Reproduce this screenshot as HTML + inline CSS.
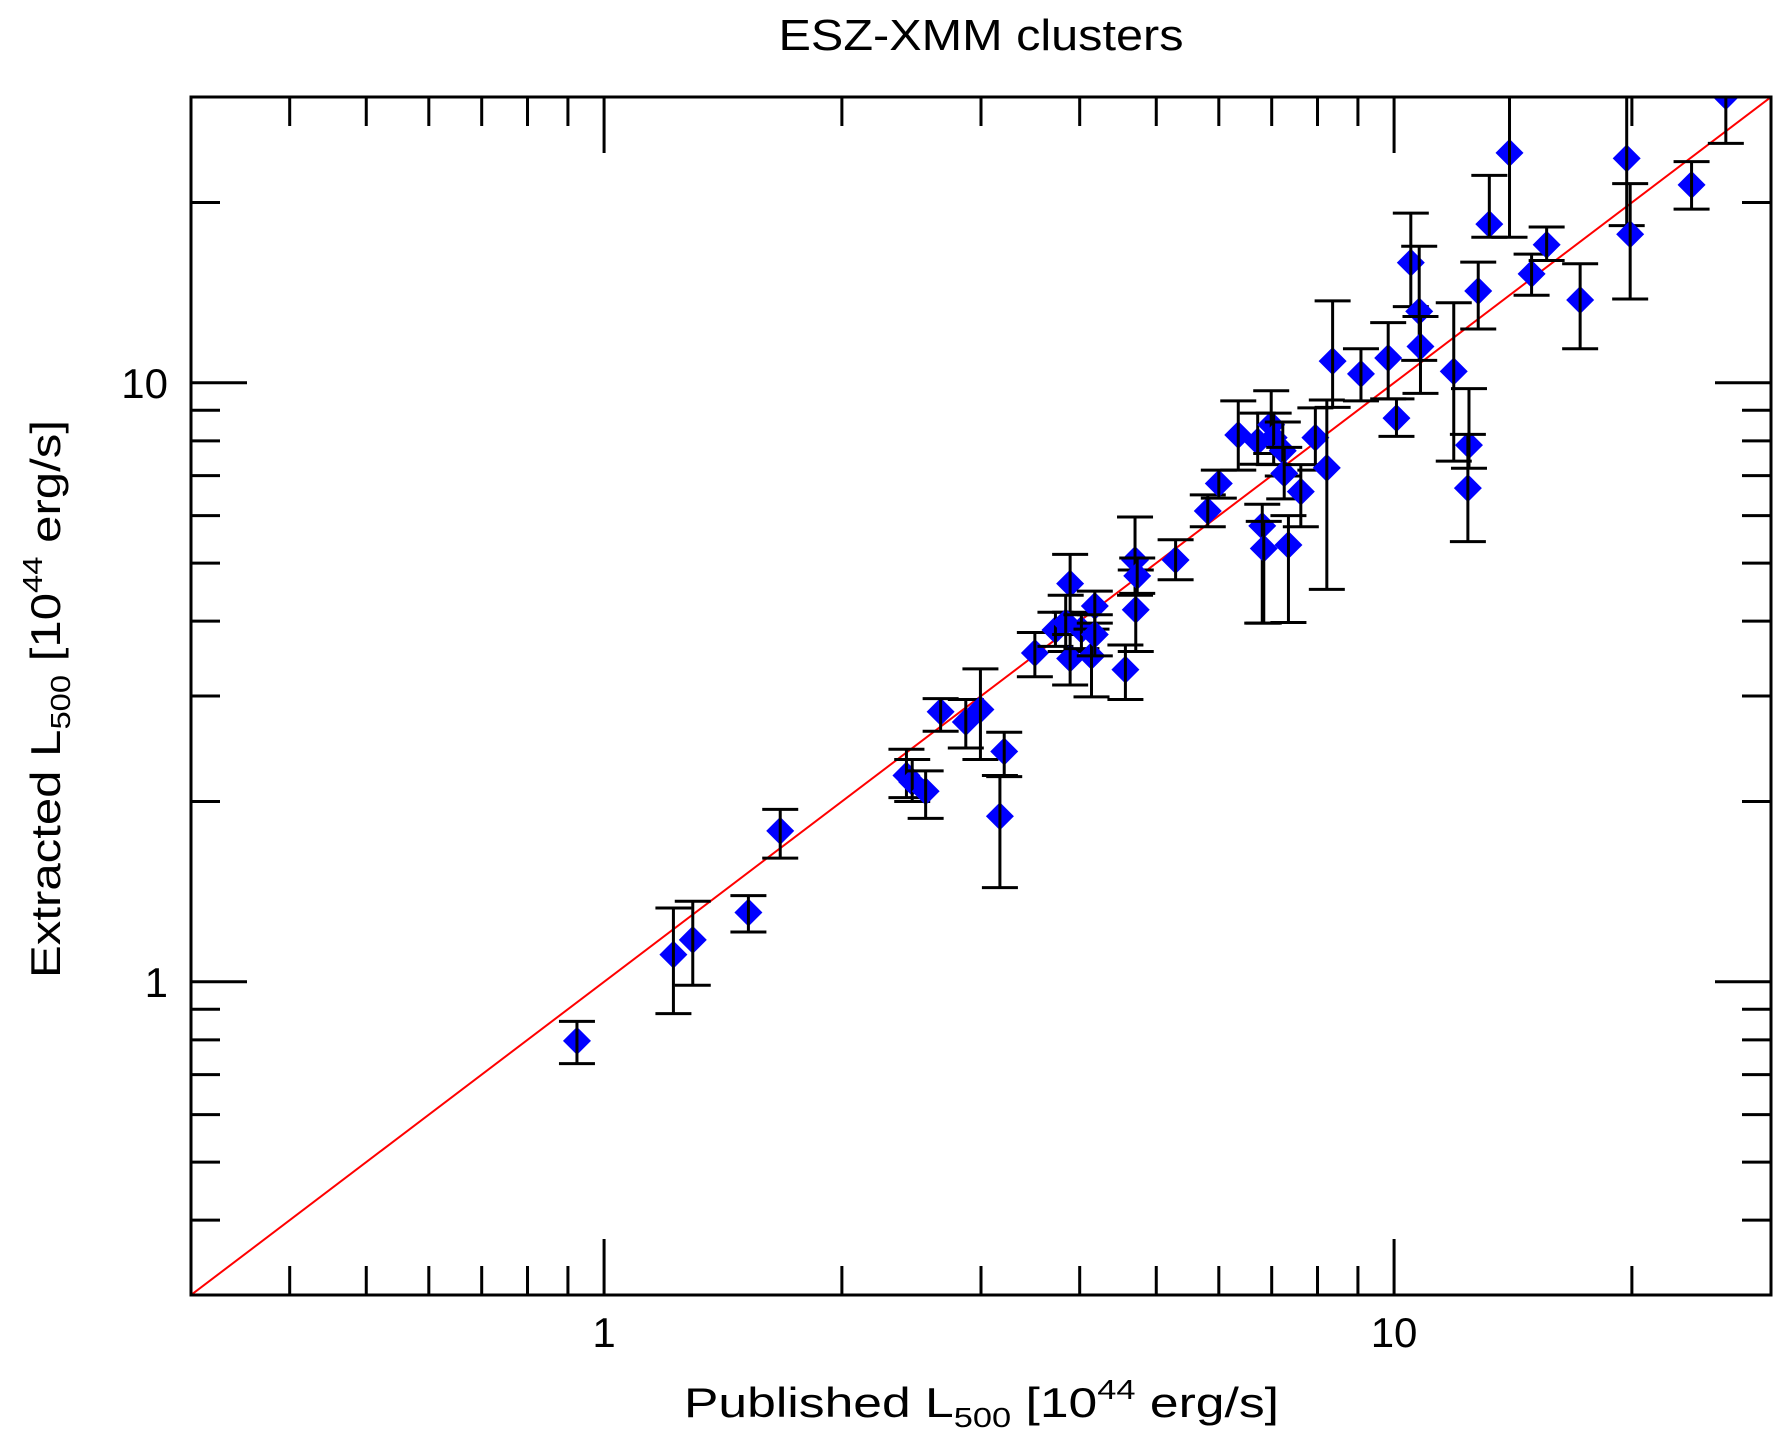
<!DOCTYPE html>
<html><head><meta charset="utf-8"><style>html,body{margin:0;padding:0;background:#fff}svg{display:block}text{font-family:"Liberation Sans",sans-serif;fill:#000}</style></head>
<body>
<svg id="chart" width="1778" height="1440" viewBox="0 0 1778 1440" xmlns="http://www.w3.org/2000/svg">
<rect x="0" y="0" width="1778" height="1440" fill="#fff"/>
<text x="981" y="50" font-size="44" text-anchor="middle" textLength="405" lengthAdjust="spacingAndGlyphs">ESZ-XMM clusters</text>
<g id="marks"></g>
<g id="axes"></g>
<text x="684" y="1417" font-size="42" textLength="595" lengthAdjust="spacingAndGlyphs">Published L<tspan font-size="28" dy="10">500</tspan><tspan dy="-10"> [10</tspan><tspan font-size="28" dy="-18">44</tspan><tspan dy="18"> erg/s]</tspan></text>
<text transform="translate(60,978) rotate(-90)" x="0" y="0" font-size="42" textLength="558" lengthAdjust="spacingAndGlyphs">Extracted L<tspan font-size="28" dy="10">500</tspan><tspan dy="-10"> [10</tspan><tspan font-size="28" dy="-18">44</tspan><tspan dy="18"> erg/s]</tspan></text>
</svg>
<script>
var xs=[0.924,1.224,1.295,1.523,1.671,2.414,2.455,2.553,2.667,2.87,2.995,3.21,3.17,3.51,3.727,3.89,3.84,3.89,4.02,4.14,4.18,4.18,4.57,4.7,4.71,4.73,5.29,5.81,6.0,6.35,6.72,6.81,6.84,6.99,7.04,7.23,7.26,7.35,7.62,7.95,8.22,8.36,9.08,9.83,10.07,10.5,10.76,10.8,11.9,12.44,12.4,12.78,13.2,14.0,14.93,15.6,17.2,19.7,19.9,23.8,26.3];
var ys=[0.797,1.11,1.175,1.305,1.786,2.21,2.155,2.08,2.824,2.715,2.848,2.424,1.89,3.54,3.866,4.62,3.98,3.465,3.87,3.5,4.24,3.80,3.32,5.06,4.18,4.76,5.06,6.11,6.79,8.18,7.98,5.77,5.29,8.51,8.1,7.7,7.06,5.36,6.58,8.1,7.21,10.87,10.35,11.0,8.73,15.87,13.16,11.5,10.45,7.87,6.67,14.23,18.4,24.2,15.2,17.0,13.75,23.7,17.7,21.4,30.1];
var yHi=[0.859,1.328,1.363,1.393,1.94,2.445,2.35,2.25,2.97,2.96,3.33,2.61,2.21,3.83,4.14,5.17,4.42,3.8,4.1,3.88,4.49,4.1,3.65,5.97,4.87,5.1,5.47,6.5,7.15,9.33,8.9,6.27,5.87,9.7,8.9,8.6,7.8,6.0,7.3,9.08,9.36,13.7,11.4,12.6,9.4,19.2,16.9,12.9,13.6,9.78,8.2,15.9,22.2,30,16.4,18.2,15.8,30,21.5,23.4,35];
var yLo=[0.730,0.885,0.987,1.211,1.609,2.03,2.0,1.874,2.62,2.457,2.35,2.2,1.436,3.23,3.63,4.14,3.56,3.13,3.6,2.99,3.97,3.5,2.96,4.42,3.56,4.45,4.69,5.75,6.42,7.15,7.31,3.97,3.97,7.62,7.3,6.99,6.4,3.98,5.75,7.15,4.52,9.1,9.33,9.4,8.14,13.4,10.9,9.6,7.4,7.2,5.43,12.3,17.5,17.5,14.0,16.0,11.4,18.3,13.8,19.5,25.1];
var xTickLabels=["1","10"];
var yTickLabels=["1","10"];
var L=191,R=1771,T=97,B=1295,LO=Math.log10(0.3),HI=Math.log10(30);
function X(v){return L+(Math.log10(v)-LO)/(HI-LO)*(R-L);}
function Y(v){return B-(Math.log10(v)-LO)/(HI-LO)*(B-T);}
var NS="http://www.w3.org/2000/svg";
function mk(tag,attrs,parent){var e=document.createElementNS(NS,tag);for(var k in attrs)e.setAttribute(k,attrs[k]);parent.appendChild(e);return e;}
var svg=document.getElementById('chart');
var clip=mk('clipPath',{id:'pc'},svg);mk('rect',{x:L,y:T,width:R-L,height:B-T},clip);
var marks=document.getElementById('marks');marks.setAttribute('clip-path','url(#pc)');
var ln=mk('line',{x1:X(0.3),y1:Y(0.3),x2:X(30),y2:Y(30),stroke:'#ff0000','stroke-width':2},marks);


for(var i=0;i<xs.length;i++){
var cx=X(xs[i]),cy=Y(ys[i]);
var d=mk('polygon',{points:(cx-14)+','+cy+' '+cx+','+(cy-14)+' '+(cx+14)+','+cy+' '+cx+','+(cy+14),fill:'#0000ff'},marks);


var yh=Y(yHi[i]),yl=Y(yLo[i]);
var p=mk('path',{d:'M'+cx+' '+yh+'V'+yl+'M'+(cx-18)+' '+yh+'H'+(cx+18)+'M'+(cx-18)+' '+yl+'H'+(cx+18),stroke:'#000','stroke-width':3,fill:'none'},marks);


}
var axes=document.getElementById('axes');
var fr=mk('rect',{x:L,y:T,width:R-L,height:B-T,fill:'none',stroke:'#000','stroke-width':3},axes);


var tp='';
var decs=[0.1,1,10];
for(var a=0;a<decs.length;a++){for(var m=1;m<10;m++){var v=decs[a]*m;if(v<0.299||v>30.01)continue;var len=(m==1)?56:29;
var x=X(v),y=Y(v);
tp+='M'+x+' '+B+'V'+(B-len)+'M'+x+' '+T+'V'+(T+len)+'M'+L+' '+y+'H'+(L+len)+'M'+R+' '+y+'H'+(R-len);}}
var tk=mk('path',{d:tp,stroke:'#000','stroke-width':3,fill:'none'},axes);


for(var j=0;j<xTickLabels.length;j++){var v=Math.pow(10,j);
var t=mk('text',{x:X(v),y:1347,'font-size':42,'text-anchor':'middle'},axes);t.textContent=xTickLabels[j];


var t2=mk('text',{x:168,y:Y(v)+15,'font-size':42,'text-anchor':'end'},axes);t2.textContent=yTickLabels[j];

}
</script>
</body></html>
